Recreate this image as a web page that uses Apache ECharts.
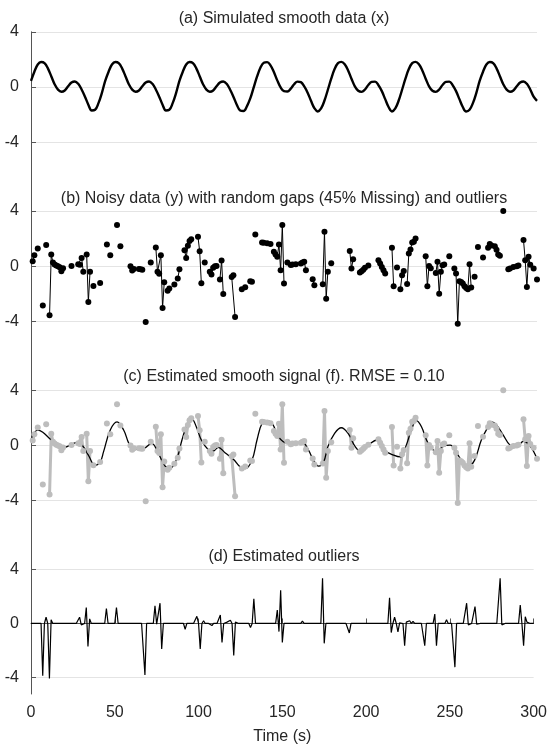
<!DOCTYPE html>
<html>
<head>
<meta charset="utf-8">
<script src="https://cdn.jsdelivr.net/npm/echarts@6/dist/echarts.min.js"></script>
<style>html,body{margin:0;padding:0;background:#fff}#main{width:550px;height:746px}</style>
</head>
<body>
<div id="main"></div>
<script>
// tick labels
const xTicks = [0, 50, 100, 150, 200, 250, 300];
const yTicks = [-4, 0, 4];
const titles = [
  '(a) Simulated smooth data (x)',
  '(b) Noisy data (y) with random gaps (45% Missing) and outliers',
  '(c) Estimated smooth signal (f). RMSE = 0.10',
  '(d) Estimated outliers'
];

// (a) smooth signal, one value every 2 s from t = 0
const smoothStep = 2;
const smoothX = [
  0.44, 1.11, 1.63, 1.81, 1.73, 1.35, 0.78, 0.2, -0.19, -0.34, -0.25, 0.05, 0.32, 0.4, 0.23, -0.18, -0.7, -1.28, -1.7,
  -1.65, -1.17, -0.44, 0.44, 1.11, 1.63, 1.81, 1.73, 1.35, 0.78, 0.2, -0.19, -0.34, -0.25, 0.05, 0.32, 0.4, 0.23, -0.18, -0.7, -1.28, -1.7,
  -1.65, -1.17, -0.44, 0.44, 1.11, 1.63, 1.81, 1.73, 1.35, 0.78, 0.2, -0.19, -0.34, -0.25, 0.05, 0.32, 0.4, 0.23, -0.18, -0.7, -1.28, -1.7,
  -1.74, -1.4, -0.83, -0.04, 0.75, 1.4, 1.76, 1.8, 1.57, 1.08, 0.48, -0.03, -0.3, -0.33, -0.12, 0.2, 0.39, 0.35, 0.04, -0.41, -1.0, -1.53, -1.77,
  -1.55, -0.98, -0.2, 0.6, 1.3, 1.73, 1.82, 1.65, 1.2, 0.6, 0.05, -0.27, -0.35, -0.18, 0.15, 0.37, 0.39, 0.13, -0.3, -0.88, -1.45, -1.77,
  -1.55, -0.98, -0.2, 0.6, 1.3, 1.73, 1.82, 1.65, 1.2, 0.6, 0.05, -0.27, -0.35, -0.18, 0.15, 0.37, 0.39, 0.13, -0.3, -0.88, -1.45, -1.77,
  -1.65, -1.17, -0.44, 0.44, 1.11, 1.63, 1.81, 1.73, 1.35, 0.78, 0.2, -0.19, -0.34, -0.25, 0.05, 0.32, 0.4, 0.23, -0.18, -0.7, -1.0
];

// (b) observed samples (time, value); every other second is missing
const obsT = [1, 2, 4, 7, 9, 11, 12, 13, 14, 15, 16, 17, 18, 19, 24, 28, 29, 30, 31, 33, 34, 35, 37, 41, 45, 47, 51, 53,
  59, 60, 61, 64, 65, 66, 68, 71, 74, 75, 76, 77, 78, 79, 81, 82, 85, 87, 88, 91, 92, 93, 94, 95, 99, 100, 101, 103,
  106, 107, 108, 109, 110, 112, 113, 114, 119, 120, 121, 125, 127, 130, 131, 133, 137, 138, 140, 142, 144, 145, 146,
  147, 148, 149, 150, 152, 154, 155, 157, 160, 161, 162, 163, 167, 168, 173, 174, 175, 176, 178, 189, 190, 191, 195,
  196, 197, 198, 200, 206, 207, 208, 209, 210, 214, 215, 217, 219, 220, 221, 223, 224, 225, 226, 227, 228, 234, 235,
  236, 237, 240, 241, 242, 243, 244, 245, 248, 251, 252, 253, 254, 255, 256, 257, 258, 259, 260, 261, 263, 265, 268,
  271, 272, 273, 275, 276, 277, 278, 280, 283, 284, 286, 288, 289, 292, 293, 294, 295, 296, 298, 300];
const obsY = [0.36, 0.8, 1.29, -2.84, 1.53, -3.56, 0.85, 0.27, 0.13, 0.05, 0.0, -0.07, -0.36, -0.15, 0.02, 0.15, 0.1, 0.6, -0.41, 0.85, -2.6, -0.41, -1.43, -1.21, 1.58, 0.8, 2.98, 1.45,
  0.0, -0.32, -0.2, -0.2, -0.22, -0.25, -4.05, 0.27, 1.36, -0.41, -0.55, 0.8, -3.03, -1.16, -1.77, -1.62, -1.33, -0.9, -0.22, 1.16, 0.6, 1.48, 1.82, 1.96, 2.13, 1.09, -1.24, 0.27,
  -0.41, -0.6, -0.12, 0.0, 0.02, -0.97, 0.41, -2.01, -0.78, -0.66, -3.68, -1.67, -1.53, -1.09, -1.13, 2.3, 1.72, 1.7, 1.66, 1.6, 1.04, 0.85, 0.68,
  1.57, -0.29, 2.98, -1.26, 0.27, 0.08, 0.13, 0.15, 0.19, 0.27, 0.32, -0.29, -0.95, -1.38, -1.31, 2.5, -2.35, -0.41, 0.22, 1.11, -0.17, 0.51, -0.46,
  -0.36, -0.25, -0.12, 0.05, 0.44, 0.2, -0.05, -0.3, -0.53, 1.33, -1.45, -0.1, -1.67, -0.65, -0.34, -1.29, 0.92, 1.21, 1.72, 1.77, 2.01, 0.73, -1.45,
  0.02, -0.15, -0.49, 0.32, -1.99, -0.41, 0.07, 0.13, 0.73, -0.17, -0.53, -4.17, -1.09, -1.15, -1.26, -1.45, -1.58, -1.67, 0.15, -1.55, -0.77, 1.4, 0.63,
  1.33, 1.6, 1.5, 1.45, 1.2, 0.85, 0.76, 4.0, -0.22, -0.17, -0.05, 0.0, 0.05, 1.89, 0.44, -1.5, 0.68, 0.1, -0.17, -0.97];

// (c) estimated smooth signal
const fitT = [0, 4, 7, 11, 14, 18, 22, 27, 30, 34, 38, 41, 43, 47, 51, 55, 58, 61, 67, 71.5, 75.5, 79.5, 82.5, 86.5, 89.5,
  92.5, 95.5, 98, 101, 105, 108, 111, 115, 120, 124, 127, 131, 134, 137, 140, 143.5, 146, 150.5, 155.5, 160.5, 164.5,
  167.5, 170.5, 173.5, 176, 180, 184, 188, 192, 195, 200, 205, 210, 215, 219, 222.5, 225.5, 228.5, 231.5, 234.5,
  237.5, 240.5, 244.5, 248.5, 252.5, 256.5, 259, 263, 267, 271, 273, 276, 280, 284, 288, 292, 296, 300];
const fitV = [0.4, 1.11, 0.95, 0.5, 0.15, -0.23, -0.05, 0.2, 0.07, -0.7, -1.45, -1.2, -0.47, 1.11, 1.7, 1.1, 0.15, -0.3, -0.22, 0.15, -0.58, -1.5, -1.65, -0.95, 0.39,
  1.48, 1.89, 1.35, 0.39, -0.3, -0.41, -0.14, -0.53, -1.0, -1.55, -1.68, -1.07, 0.39, 1.6, 1.79, 1.48, 0.75, 0.2, 0.1, 0.27, -0.34,
  -1.07, -1.5, -1.2, -0.1, 0.87, 1.28, 0.87, -0.05, -0.39, 0.02, 0.39, -0.39, -0.7, -0.83, 0.02, 1.11, 1.79, 1.35, 0.39,
  -0.22, -0.46, -0.05, 0.02, -0.58, -1.31, -1.55, -1.07, 0.39, 1.35, 1.7, 1.48, 0.75, 0.02, -0.1, 0.3, -0.05, -0.97];

// (d) estimated outliers, zero at every other second
const outT = [7, 9, 11, 12, 29, 30, 33, 34, 35, 45, 51, 68, 74, 75, 77, 78, 86, 88, 92, 94, 99, 101, 103, 108, 110, 113, 114,
  117, 119, 121, 122, 131, 133, 147, 148, 149, 150, 162, 174, 175, 190, 214, 215, 217, 219, 220, 221, 223, 224, 226,
  228, 235, 237, 241, 242, 248, 253, 260, 261, 265, 266, 280, 281, 292, 294, 295, 296];
const outV = [-3.86, 0.46, -4.07, 0.27, 0.46, -0.1, 1.18, -1.71, 0.34, 1.11, 1.18, -3.81, 1.3, -0.05, 1.5, -1.88, 0.1, 0.1, -0.43, 0.14, 0.53, -1.88, 0.2, -0.15, 0.05, 0.63, -1.4,
  0.1, 0.24, -2.36, 0.1, -0.3, 1.83, 1.0, -0.6, 2.46, -1.4, 0.17, 3.35, -1.47, -0.7, 1.9, -0.67, 0.46, -0.63, 0.05, 0.14, -1.64, 0.1, 0.2,
  0.15, -1.64, 0.1, 0.7, -1.64, 0.27, -3.23, 1.5, -0.1, 1.25, -0.05, 3.35, -0.1, 1.37, -1.64, 0.5, 0.1];

// build series data
const smoothData = smoothX.map((v, i) => [i * smoothStep, v]);
const obsMap = {};
obsT.forEach((t, i) => { obsMap[t] = obsY[i]; });
const noisyData = [];
for (let t = 0; t <= 300; t++) {
  noisyData.push([t, obsMap[t] === undefined ? '-' : obsMap[t]]);
}
const fitData = fitT.map((t, i) => [t, fitV[i]]);
const outMap = {};
outT.forEach((t, i) => { outMap[t] = outV[i]; });
const outData = [];
for (let t = 0; t <= 300; t++) {
  outData.push([t, outMap[t] === undefined ? 0 : outMap[t]]);
}

const font = 'Liberation Sans';
const txt = '#262626';
const axisCol = '#555';
const fs = 16;
const pxPerUnit = 13.8;
const gridTops = [31.8, 211, 390.2, 569.4];
const gridHeights = [179.2, 179.2, 179.2, 127.2];

const grids = gridTops.map((top, i) => ({ left: 31, right: 13, top: top, height: gridHeights[i] }));

const xAxes = grids.map((g, i) => {
  const last = i === 3;
  return {
    gridIndex: i, type: 'value', min: 0, max: 300, interval: 50,
    show: last,
    axisLine: { show: last, lineStyle: { color: axisCol } },
    axisTick: { show: last, inside: true, length: 5, lineStyle: { color: axisCol } },
    axisLabel: { show: last, color: txt, fontSize: fs, fontFamily: font, margin: 11 },
    splitLine: { show: false },
    name: last ? 'Time (s)' : '',
    nameLocation: 'middle', nameGap: 35,
    nameTextStyle: { color: txt, fontSize: fs, fontFamily: font }
  };
});

const yAxes = grids.map((g, i) => ({
  gridIndex: i, type: 'value', max: 4, min: 4 - gridHeights[i] / pxPerUnit,
  axisLine: { show: true, lineStyle: { color: axisCol } },
  axisTick: { show: true, inside: true, length: 5, customValues: yTicks, lineStyle: { color: axisCol } },
  axisLabel: { customValues: yTicks, color: txt, fontSize: fs, fontFamily: font, margin: 12 },
  splitLine: { show: true, lineStyle: { color: '#e4e4e4', width: 1 } }
}));

const titleY = [19, 198.3, 377, 557];
const option = {
  animation: false,
  backgroundColor: '#fff',
  grid: grids,
  xAxis: xAxes,
  yAxis: yAxes,
  graphic: titles.map((t, i) => ({
    type: 'text', x: 284, y: titleY[i],
    style: { text: t, fill: txt, font: fs + 'px "' + font + '"', textAlign: 'center', textVerticalAlign: 'middle' }
  })),
  series: [
    { type: 'line', xAxisIndex: 0, yAxisIndex: 0, data: smoothData, smooth: 0.4, showSymbol: false,
      lineStyle: { color: '#000', width: 2.4 } },
    { type: 'line', xAxisIndex: 1, yAxisIndex: 1, data: noisyData, connectNulls: false,
      symbol: 'circle', symbolSize: 6, showSymbol: true,
      itemStyle: { color: '#000' }, lineStyle: { color: '#000', width: 1 } },
    { type: 'line', xAxisIndex: 2, yAxisIndex: 2, data: noisyData, connectNulls: false,
      symbol: 'circle', symbolSize: 6, showSymbol: true,
      itemStyle: { color: '#bdbdbd' }, lineStyle: { color: '#bdbdbd', width: 3 } },
    { type: 'line', xAxisIndex: 2, yAxisIndex: 2, data: fitData, smooth: 0.4, showSymbol: false,
      lineStyle: { color: '#000', width: 1.3 } },
    { type: 'line', xAxisIndex: 3, yAxisIndex: 3, data: outData, showSymbol: false,
      lineStyle: { color: '#000', width: 1.2 } }
  ]
};

const myChart = echarts.init(document.getElementById('main'));
myChart.setOption(option);
window.addEventListener('resize', function () {
  myChart.resize();
});
</script>
</body>
</html>
